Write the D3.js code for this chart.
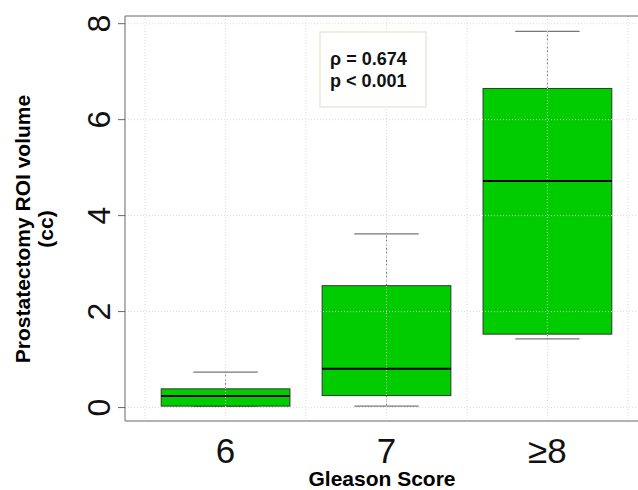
<!DOCTYPE html>
<html>
<head>
<meta charset="utf-8">
<script src="https://cdn.jsdelivr.net/npm/d3@7"></script>
<style>
  body { margin: 0; background: #fff; }
  svg { display: block; font-family: "Liberation Sans", Arial, sans-serif; }
</style>
</head>
<body>
<div id="chart"></div>
<script>
// Gleason score groups and box stats
const categories = ['6', '7', '≥8'];
const whiskerLow = [0.03, 0.03, 1.43];
const q1 = [0.03, 0.25, 1.53];
const median = [0.24, 0.81, 4.72];
const q3 = [0.39, 2.54, 6.65];
const whiskerHigh = [0.74, 3.62, 7.84];
const yTicks = [0, 2, 4, 6, 8];
const stats = ['ρ = 0.674', 'p < 0.001'];

const width = 638, height = 490;
const margin = { left: 125, top: 16, bottom: 421 };

const svg = d3.select('#chart').append('svg')
    .attr('width', width).attr('height', height);

// x is in category units: 1, 2, 3 are the group centres
const x = d3.scaleLinear().domain([0.375, 3.625]).range([margin.left, 648]);
const y = d3.scaleLinear().domain([-0.28, 8.16]).range([margin.bottom, margin.top]);

const groups = categories.map((c, i) => ({
  name: c, pos: i + 1,
  lo: whiskerLow[i], q1: q1[i], med: median[i], q3: q3[i], hi: whiskerHigh[i]
}));

// whiskers (dashed stems + solid caps)
groups.forEach(g => {
  svg.append('line')
      .attr('x1', x(g.pos)).attr('x2', x(g.pos))
      .attr('y1', y(g.q3)).attr('y2', y(g.hi))
      .attr('stroke', '#777').attr('stroke-dasharray', '2,2');
  svg.append('line')
      .attr('x1', x(g.pos)).attr('x2', x(g.pos))
      .attr('y1', y(g.q1)).attr('y2', y(g.lo))
      .attr('stroke', '#777').attr('stroke-dasharray', '2,2');
  [g.lo, g.hi].forEach(v => {
    svg.append('line')
        .attr('x1', x(g.pos - 0.2)).attr('x2', x(g.pos + 0.2))
        .attr('y1', y(v)).attr('y2', y(v))
        .attr('stroke', '#777').attr('stroke-width', 1.2);
  });
});

// boxes
svg.selectAll('rect.box').data(groups).enter().append('rect')
    .attr('class', 'box')
    .attr('x', d => x(d.pos - 0.4))
    .attr('width', d => x(d.pos + 0.4) - x(d.pos - 0.4))
    .attr('y', d => y(d.q3))
    .attr('height', d => y(d.q1) - y(d.q3))
    .attr('fill', '#00cc00').attr('stroke', '#2b3b2b').attr('stroke-width', 1);

// grid drawn over the boxes, like the original
const gridX = d3.range(0.5, 3.6, 0.5);
svg.selectAll('line.gx').data(gridX).enter().append('line')
    .attr('x1', d => x(d)).attr('x2', d => x(d))
    .attr('y1', margin.top).attr('y2', margin.bottom)
    .attr('stroke', '#dcdcdc').attr('stroke-dasharray', '1,2');
svg.selectAll('line.gy').data(yTicks).enter().append('line')
    .attr('x1', margin.left).attr('x2', width)
    .attr('y1', d => y(d)).attr('y2', d => y(d))
    .attr('stroke', '#dcdcdc').attr('stroke-dasharray', '1,2');

// medians
svg.selectAll('line.med').data(groups).enter().append('line')
    .attr('x1', d => x(d.pos - 0.4)).attr('x2', d => x(d.pos + 0.4))
    .attr('y1', d => y(d.med)).attr('y2', d => y(d.med))
    .attr('stroke', '#000').attr('stroke-width', 2);

// frame: left, bottom, top
svg.append('line').attr('x1', margin.left).attr('x2', margin.left)
    .attr('y1', margin.top).attr('y2', margin.bottom).attr('stroke', '#666');
svg.append('line').attr('x1', margin.left).attr('x2', width)
    .attr('y1', margin.bottom).attr('y2', margin.bottom).attr('stroke', '#666');
svg.append('line').attr('x1', margin.left).attr('x2', width)
    .attr('y1', margin.top).attr('y2', margin.top).attr('stroke', '#666');

// y axis with rotated labels
const yAxis = svg.append('g');
yAxis.selectAll('line').data(yTicks).enter().append('line')
    .attr('x1', margin.left - 7).attr('x2', margin.left)
    .attr('y1', d => y(d)).attr('y2', d => y(d))
    .attr('stroke', '#666');
yAxis.selectAll('text').data(yTicks).enter().append('text')
    .attr('transform', d => `translate(110,${y(d)}) rotate(-90)`)
    .attr('text-anchor', 'middle')
    .attr('font-size', 32)
    .attr('fill', '#111')
    .text(d => d);

// x labels
svg.selectAll('text.xl').data(groups).enter().append('text')
    .attr('x', d => x(d.pos)).attr('y', 463)
    .attr('text-anchor', 'middle')
    .attr('font-size', 35)
    .attr('fill', '#111')
    .text(d => d.name);

svg.append('text')
    .attr('x', 382).attr('y', 486)
    .attr('text-anchor', 'middle')
    .attr('font-size', 21).attr('font-weight', 'bold')
    .text('Gleason Score');

const yTitle = svg.append('text')
    .attr('transform', 'translate(0,229) rotate(-90)')
    .attr('text-anchor', 'middle')
    .attr('font-size', 21).attr('font-weight', 'bold');
yTitle.append('tspan').attr('x', 0).attr('y', 30).text('Prostatectomy ROI volume');
yTitle.append('tspan').attr('x', 0).attr('y', 53).text('(cc)');

// correlation box
svg.append('rect')
    .attr('x', 320).attr('y', 32).attr('width', 106).attr('height', 75)
    .attr('fill', '#fff').attr('stroke', '#ebe7da').attr('stroke-width', 1.5);
svg.selectAll('text.st').data(stats).enter().append('text')
    .attr('x', 330).attr('y', (d, i) => 65 + i * 22)
    .attr('font-size', 18).attr('font-weight', 'bold')
    .attr('fill', '#111')
    .text(d => d);
</script>
</body>
</html>
